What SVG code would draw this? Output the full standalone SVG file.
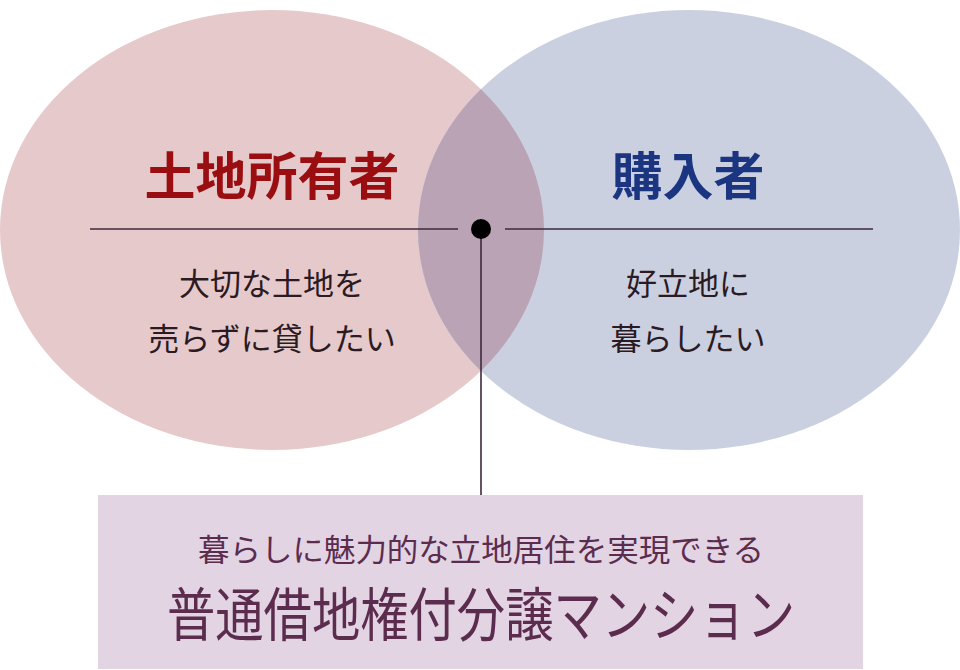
<svg xmlns="http://www.w3.org/2000/svg" width="960" height="670" viewBox="0 0 960 670">
<defs>
<style>
.jp{font-family:"Noto Sans CJK JP","Noto Sans CJK SC",sans-serif;text-anchor:middle}
.title{font-size:51px;font-weight:bold}
.sub{font-size:31px;fill:#2a1a22}
.ln{stroke:#3e2a3c;stroke-width:1.6;fill:none}
</style>
<clipPath id="clipL"><ellipse cx="272" cy="230" rx="272" ry="220"/></clipPath>
</defs>
<rect width="960" height="670" fill="#ffffff"/>
<g id="owner">
<ellipse cx="272" cy="230" rx="272" ry="220" fill="#e6c9ca"/>
</g>
<g id="buyer">
<ellipse cx="689" cy="230" rx="271" ry="220" fill="#cbd0e1"/>
</g>
<g id="overlap">
<ellipse cx="689" cy="230" rx="271" ry="220" fill="#baa3b5" clip-path="url(#clipL)"/>
</g>
<g id="owner-text">
<text class="jp title" x="272" y="195" fill="#9a0e12">土地所有者</text>
<text class="jp sub" x="272" y="295">大切な土地を</text>
<text class="jp sub" x="272" y="350">売らずに貸したい</text>
</g>
<g id="buyer-text">
<text class="jp title" x="688" y="195" fill="#1c3580">購入者</text>
<text class="jp sub" x="688" y="295">好立地に</text>
<text class="jp sub" x="688" y="350">暮らしたい</text>
</g>
<g id="connectors">
<line class="ln" x1="90" y1="229" x2="458" y2="229"/>
<line class="ln" x1="505" y1="229" x2="873" y2="229"/>
<line class="ln" x1="481" y1="229" x2="481" y2="496"/>
<circle cx="481" cy="229" r="10" fill="#000"/>
</g>
<g id="result">
<rect x="98" y="495" width="765" height="174" fill="#e2d4e3"/>
<text class="jp" x="481" y="561" font-size="31" fill="#5c2c4f" textLength="566" lengthAdjust="spacingAndGlyphs">暮らしに魅力的な立地居住を実現できる</text>
<text class="jp" x="481" y="636" font-size="58" fill="#5c2c4f" textLength="628" lengthAdjust="spacingAndGlyphs">普通借地権付分譲マンション</text>
</g>
</svg>
